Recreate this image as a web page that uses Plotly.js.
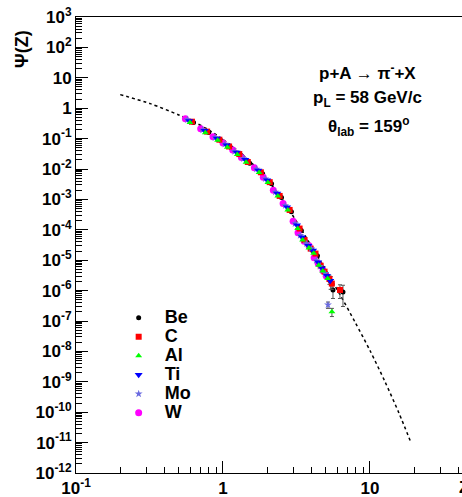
<!DOCTYPE html>
<html>
<head>
<meta charset="utf-8">
<script src="https://cdn.plot.ly/plotly-3.0.1.min.js"></script>
<style>html,body{margin:0;padding:0;background:#fff;}</style>
</head>
<body>
<div id="chart" style="width:462px;height:497px;"></div>
<script>
// Model curve (dotted line)
const curveX = [0.2, 0.32, 0.5, 0.63, 0.79, 1.0, 1.26, 1.58, 2.0, 2.51, 3.16, 3.98, 5.01, 6.31, 7.94, 10.0, 12.6, 15.8, 19.0];
const curveY = [2.8, 1.41, 0.60, 0.36, 0.20, 0.093, 0.040, 0.0151, 0.0045, 1.05e-3, 1.9e-4, 3.0e-5, 4.7e-6, 6.8e-7, 8.9e-8, 1.07e-8, 1.05e-9, 9e-11, 1.0e-11];

// Data per target nucleus
const beX = [0.63, 0.80, 0.975, 1.135, 1.33, 1.52, 1.86, 2.14, 2.50, 2.92, 3.41, 3.69, 4.07, 4.39, 4.75, 5.05, 5.40, 5.60, 6.55];
const beY = [0.34, 0.16, 0.085, 0.050, 0.028, 0.0155, 7.0e-3, 3.3e-3, 1.15e-3, 3.9e-4, 9.5e-5, 4.0e-5, 2.1e-5, 1.4e-5, 5.6e-6, 3.5e-6, 2.0e-6, 1.05e-6, 9.0e-7];
const beErr = [0, 0, 0, 0, 0, 0, 0, 0, 0, 0, 0, 0, 0, 0, 0, 0, 0.9e-6, 0.5e-6, 0.6e-6];

const cX = [0.615, 0.78, 0.945, 1.10, 1.29, 1.475, 1.81, 2.08, 2.43, 2.84, 3.32, 3.59, 3.95, 4.26, 4.62, 4.91, 5.30, 5.50, 6.25];
const cY = [0.36, 0.17, 0.092, 0.055, 0.031, 0.017, 7.8e-3, 3.7e-3, 1.3e-3, 4.5e-4, 1.1e-4, 4.6e-5, 2.4e-5, 1.65e-5, 6.6e-6, 4.2e-6, 2.4e-6, 1.7e-6, 1.05e-6];
const cErr = [0, 0, 0, 0, 0, 0, 0, 0, 0, 0, 0, 0, 0, 0, 0, 0, 0.8e-6, 0.6e-6, 0.5e-6];

const alX = [0.596, 0.758, 0.92, 1.07, 1.25, 1.435, 1.76, 2.02, 2.36, 2.76, 3.22, 3.48, 3.84, 4.14, 4.48, 4.77, 5.15, 5.51];
const alY = [0.34, 0.155, 0.088, 0.052, 0.030, 0.0168, 7.6e-3, 3.6e-3, 1.3e-3, 4.5e-4, 1.1e-4, 4.6e-5, 2.5e-5, 1.7e-5, 6.8e-6, 4.4e-6, 2.5e-6, 2.0e-7];
const alErr = [0, 0, 0, 0, 0, 0, 0, 0, 0, 0, 0, 0, 0, 0, 0, 0, 0, 0.6e-7];

const tiX = [0.59, 0.75, 0.91, 1.06, 1.24, 1.42, 1.74, 2.00, 2.34, 2.73, 3.19, 3.45, 3.80, 4.10, 4.44, 4.72, 5.10, 5.36];
const tiY = [0.38, 0.18, 0.10, 0.061, 0.035, 0.020, 9.0e-3, 4.3e-3, 1.55e-3, 5.5e-4, 1.4e-4, 5.7e-5, 3.0e-5, 2.1e-5, 8.5e-6, 5.4e-6, 3.1e-6, 2.1e-6];

const moX = [0.572, 0.728, 0.883, 1.03, 1.20, 1.38, 1.69, 1.94, 2.27, 2.65, 3.09, 3.35, 3.69, 3.98, 4.31, 4.58, 4.95, 5.18];
const moY = [0.42, 0.195, 0.108, 0.066, 0.038, 0.022, 1.0e-2, 4.8e-3, 1.75e-3, 6.3e-4, 1.6e-4, 6.6e-5, 3.5e-5, 2.4e-5, 9.8e-6, 6.3e-6, 3.7e-6, 3.4e-7];
const moErr = [0, 0, 0, 0, 0, 0, 0, 0, 0, 0, 0, 0, 0, 0, 0, 0, 0, 0.8e-7];

const wX = [0.555, 0.705, 0.855, 1.00, 1.165, 1.335, 1.635, 1.88, 2.20, 2.565, 3.00, 3.24, 3.57, 3.85, 4.17, 4.44, 4.79, 5.04];
const wY = [0.45, 0.21, 0.115, 0.072, 0.042, 0.024, 1.1e-2, 5.4e-3, 2.0e-3, 7.3e-4, 1.9e-4, 8.0e-5, 4.2e-5, 3.0e-5, 1.2e-5, 7.8e-6, 4.5e-6, 3.0e-6];

const xTickVals = [0.1, 1, 10];
const xTickText = ['10<sup>-1</sup>', '1', '10'];
const yTickVals = [1e3, 1e2, 10, 1, 1e-1, 1e-2, 1e-3, 1e-4, 1e-5, 1e-6, 1e-7, 1e-8, 1e-9, 1e-10, 1e-11, 1e-12];
const yTickText = ['10<sup>3</sup>', '10<sup>2</sup>', '10', '1', '10<sup>-1</sup>', '10<sup>-2</sup>', '10<sup>-3</sup>', '10<sup>-4</sup>', '10<sup>-5</sup>', '10<sup>-6</sup>', '10<sup>-7</sup>', '10<sup>-8</sup>', '10<sup>-9</sup>', '10<sup>-10</sup>', '10<sup>-11</sup>', '10<sup>-12</sup>'];

function minorVals(lo, hi) {
  const v = [];
  for (let e = lo; e <= hi; e++) {
    for (let m = 2; m <= 9; m++) v.push(m * Math.pow(10, e));
  }
  return v;
}

const FONT = 'Liberation Sans, Arial, sans-serif';
function lg(name) { return '<span style="font-size:18px">' + name + '</span>'; }

function series(name, rank, x, y, err, symbol, color, size) {
  const t = {
    type: 'scatter', mode: 'markers', name: lg(name), legendrank: rank, x: x, y: y,
    marker: {symbol: symbol, color: color, size: size, line: {width: 0}},
    cliponaxis: false
  };
  if (err) t.error_y = {type: 'data', array: err, visible: true, color: '#555', thickness: 1, width: 2};
  return t;
}

const traces = [
  {type: 'scatter', mode: 'lines', x: curveX, y: curveY, line: {color: '#000', width: 1.5, dash: 'dot', shape: 'spline', smoothing: 0.8}, showlegend: false, hoverinfo: 'skip'},
  series('Be', 1, beX, beY, beErr, 'circle', '#000000', 5),
  series('W', 6, wX, wY, null, 'circle', '#ff00ff', 7),
  series('C', 2, cX, cY, cErr, 'square', '#ff0000', 6),
  series('Mo', 5, moX, moY, moErr, 'star', '#6a6ae0', 6),
  series('Ti', 4, tiX, tiY, null, 'triangle-down', '#0000ff', 7),
  series('Al', 3, alX, alY, alErr, 'triangle-up', '#00ff00', 6)
];

const layout = {
  width: 462, height: 497,
  margin: {l: 76, r: 0, t: 17, b: 24, pad: 0},
  paper_bgcolor: '#fff', plot_bgcolor: '#fff',
  font: {family: FONT, color: '#000'},
  showlegend: true,
  legend: {
    x: 0.095, y: 0.372, xanchor: 'left', yanchor: 'top',
    bgcolor: 'rgba(0,0,0,0)', borderwidth: 0,
    font: {family: FONT, size: 12, weight: 'bold', color: '#000'},
    itemsizing: 'trace', traceorder: 'normal', itemwidth: 42
  },
  xaxis: {
    type: 'log', range: [-1, 1.626], autorange: false,
    showline: true, linecolor: '#000', linewidth: 1, mirror: true,
    showgrid: false, zeroline: false,
    ticks: 'inside', ticklen: 12, tickwidth: 1, tickcolor: '#000',
    tickmode: 'array', tickvals: xTickVals, ticktext: xTickText,
    tickfont: {family: FONT, size: 17, weight: 'bold', color: '#000'},
    minor: {ticks: 'inside', ticklen: 6, tickwidth: 1, tickcolor: '#000', tickmode: 'array', tickvals: minorVals(-1, 1), showgrid: false}
  },
  yaxis: {
    type: 'log', range: [-12, 3], autorange: false,
    showline: true, linecolor: '#000', linewidth: 1, mirror: false,
    showgrid: false, zeroline: false,
    ticks: 'inside', ticklen: 12, tickwidth: 1, tickcolor: '#000',
    tickmode: 'array', tickvals: yTickVals, ticktext: yTickText,
    tickfont: {family: FONT, size: 17, weight: 'bold', color: '#000'},
    minor: {ticks: 'inside', ticklen: 6, tickwidth: 1, tickcolor: '#000', tickmode: 'array', tickvals: minorVals(-12, 2), showgrid: false}
  },
  annotations: [
    {xref: 'paper', yref: 'paper', x: 0, y: 0.93, xshift: -54, xanchor: 'center', yanchor: 'middle', textangle: -90, showarrow: false,
     text: 'Ψ(Z)', font: {family: FONT, size: 18, weight: 'bold', color: '#000'}},
    {xref: 'paper', yref: 'paper', x: 1, y: 0, xshift: -5, yshift: -14, xanchor: 'left', yanchor: 'middle', showarrow: false,
     text: 'Z', font: {family: FONT, size: 17, weight: 'bold', color: '#000'}},
    {xref: 'paper', yref: 'paper', x: 0.754, y: 0.88, xanchor: 'center', yanchor: 'middle', showarrow: false,
     text: 'p+A → π<sup>-</sup>+X', font: {family: FONT, size: 17, weight: 'bold', color: '#000'}},
    {xref: 'paper', yref: 'paper', x: 0.754, y: 0.82, xanchor: 'center', yanchor: 'middle', showarrow: false,
     text: 'p<sub>L</sub> = 58 GeV/c', font: {family: FONT, size: 17, weight: 'bold', color: '#000'}},
    {xref: 'paper', yref: 'paper', x: 0.757, y: 0.759, xanchor: 'center', yanchor: 'middle', showarrow: false,
     text: 'θ<sub>lab</sub> = 159<sup>o</sup>', font: {family: FONT, size: 17, weight: 'bold', color: '#000'}}
  ]
};

Plotly.newPlot('chart', traces, layout, {displayModeBar: false, staticPlot: true});
</script>
</body>
</html>
